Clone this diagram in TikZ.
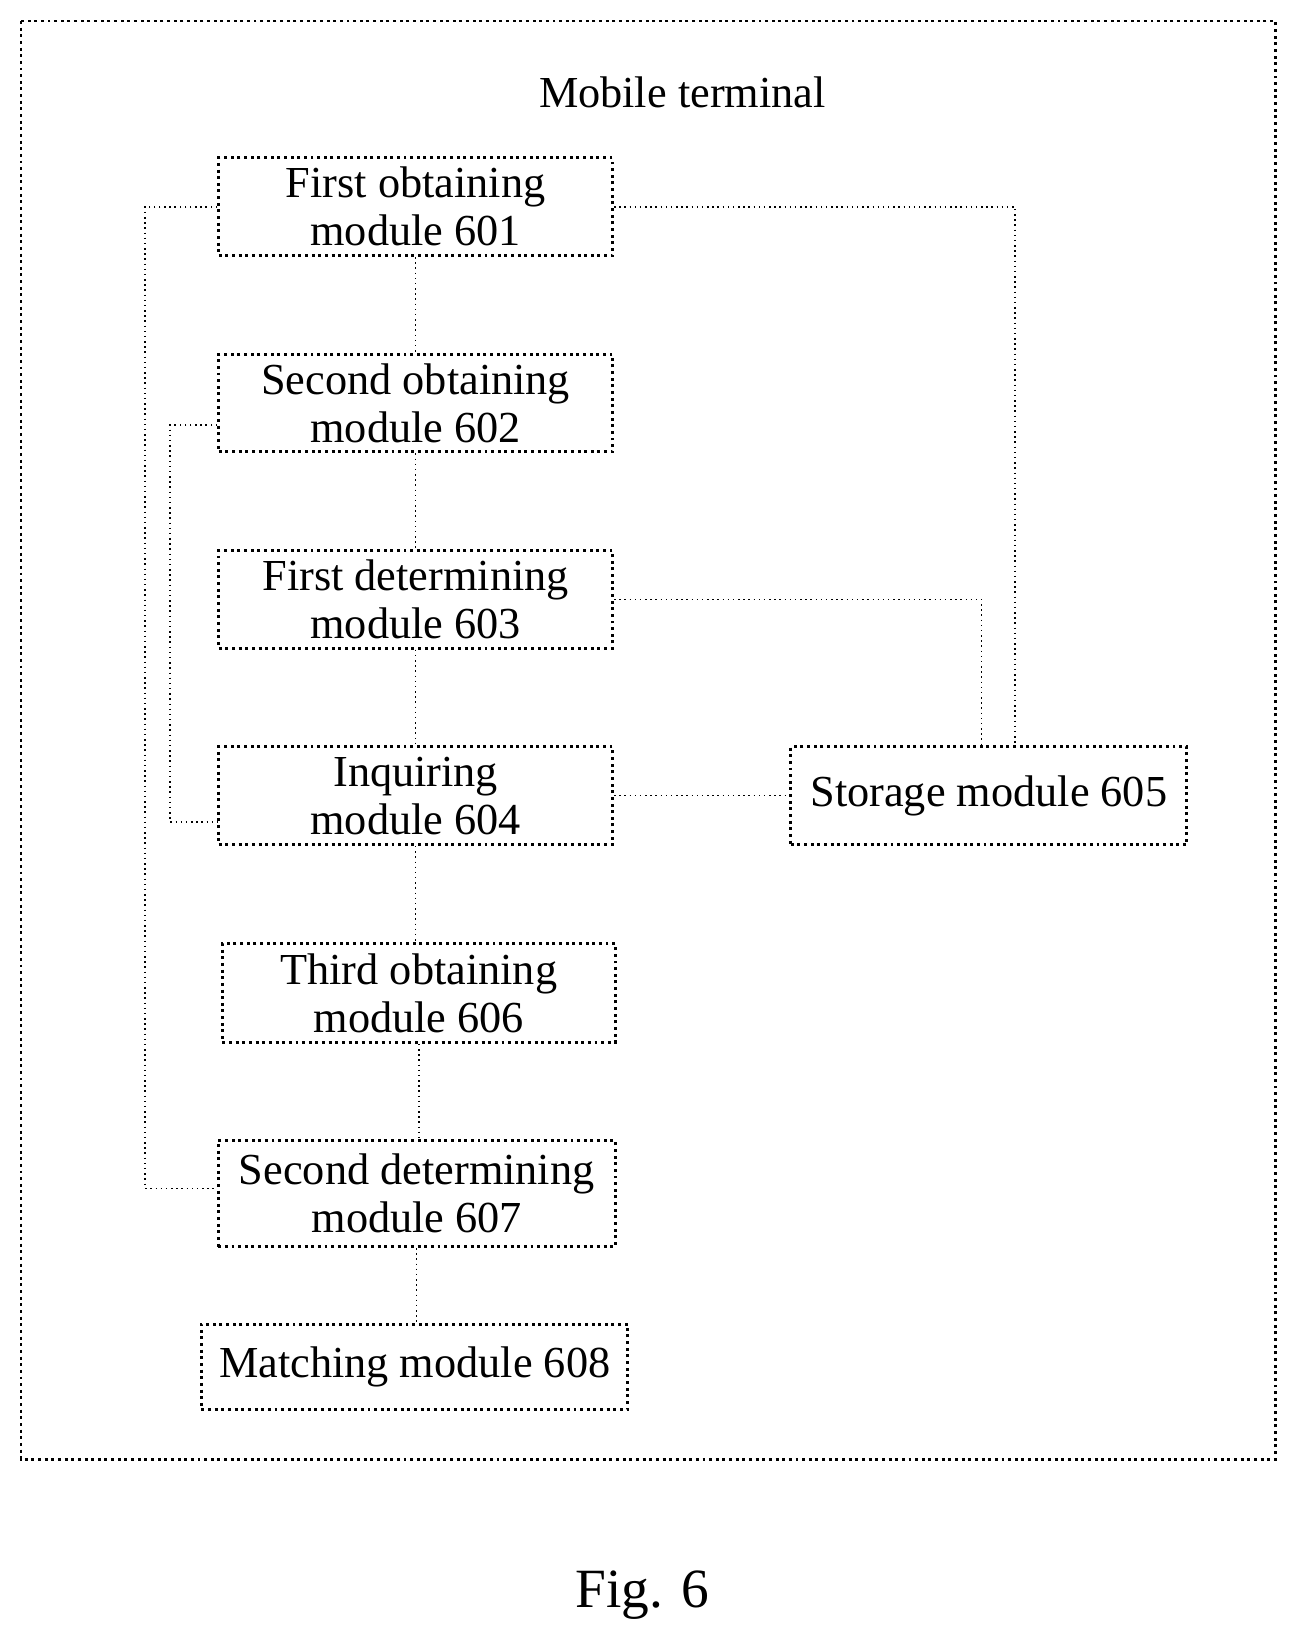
\documentclass[tikz,border=0pt]{standalone}
\usepackage{fontspec}
\setmainfont{Liberation Serif}
\usepackage{tikz}
\begin{document}
\begin{tikzpicture}[x=0.01cm,y=-0.01cm]
\tikzstyle{every node}+=[inner sep=0pt]
\tikzstyle{module}=[draw,densely dotted,thick,align=center,font=\fontsize{12}{13}\selectfont]
\tikzstyle{link}=[densely dotted,thin]
\useasboundingbox (0,0) rectangle (1236,1569);
\draw [densely dotted,thick] (20,20) rectangle (1215,1390);
\node (title) at (650,88) {\fontsize{12}{13}\selectfont Mobile terminal};
\node [module,minimum width=3.75cm,minimum height=0.93cm] (m601) at (396,197) {First obtaining\\module 601};
\node [module,minimum width=3.75cm,minimum height=0.93cm] (m602) at (396,384) {Second obtaining\\module 602};
\node [module,minimum width=3.75cm,minimum height=0.93cm] (m603) at (396,571) {First determining\\module 603};
\node [module,minimum width=3.75cm,minimum height=0.93cm] (m604) at (396,758) {Inquiring\\module 604};
\node [module,minimum width=3.77cm,minimum height=0.93cm] (m605) at (942,758) {Storage module 605};
\node [module,minimum width=3.74cm,minimum height=0.94cm] (m606) at (399,946) {Third obtaining\\module 606};
\node [module,minimum width=3.78cm,minimum height=1.01cm] (m607) at (397,1137) {Second determining\\module 607};
\node [module,minimum width=4.06cm,minimum height=0.81cm] (m608) at (395,1302) {Matching module 608};
\draw [link] (m601) -- (m602);
\draw [link] (m602) -- (m603);
\draw [link] (m603) -- (m604);
\draw [link] (m604.south) -- (m604.south |- m606.north);
\draw [link] (m606.south) -- (m606.south |- m607.north);
\draw [link] (m607) -- (m607.south |- m608.north);
\draw [link] (m604) -- (m605);
\draw [link] (m601.west) -- (138,197) -- (138,1132) -- (m607.west |- {0,1132});
\draw [link] (m602.west |- {0,405}) -- (162,405) -- (162,783) -- (m604.west |- {0,783});
\draw [link] (m601.east) -- (967,197) -- ({967,0} |- m605.north);
\draw [link] (m603.east) -- (935,571) -- ({935,0} |- m605.north);
\node (fig) at (612,1520) {\fontsize{15}{17}\selectfont Fig. 6};
\end{tikzpicture}
\end{document}
